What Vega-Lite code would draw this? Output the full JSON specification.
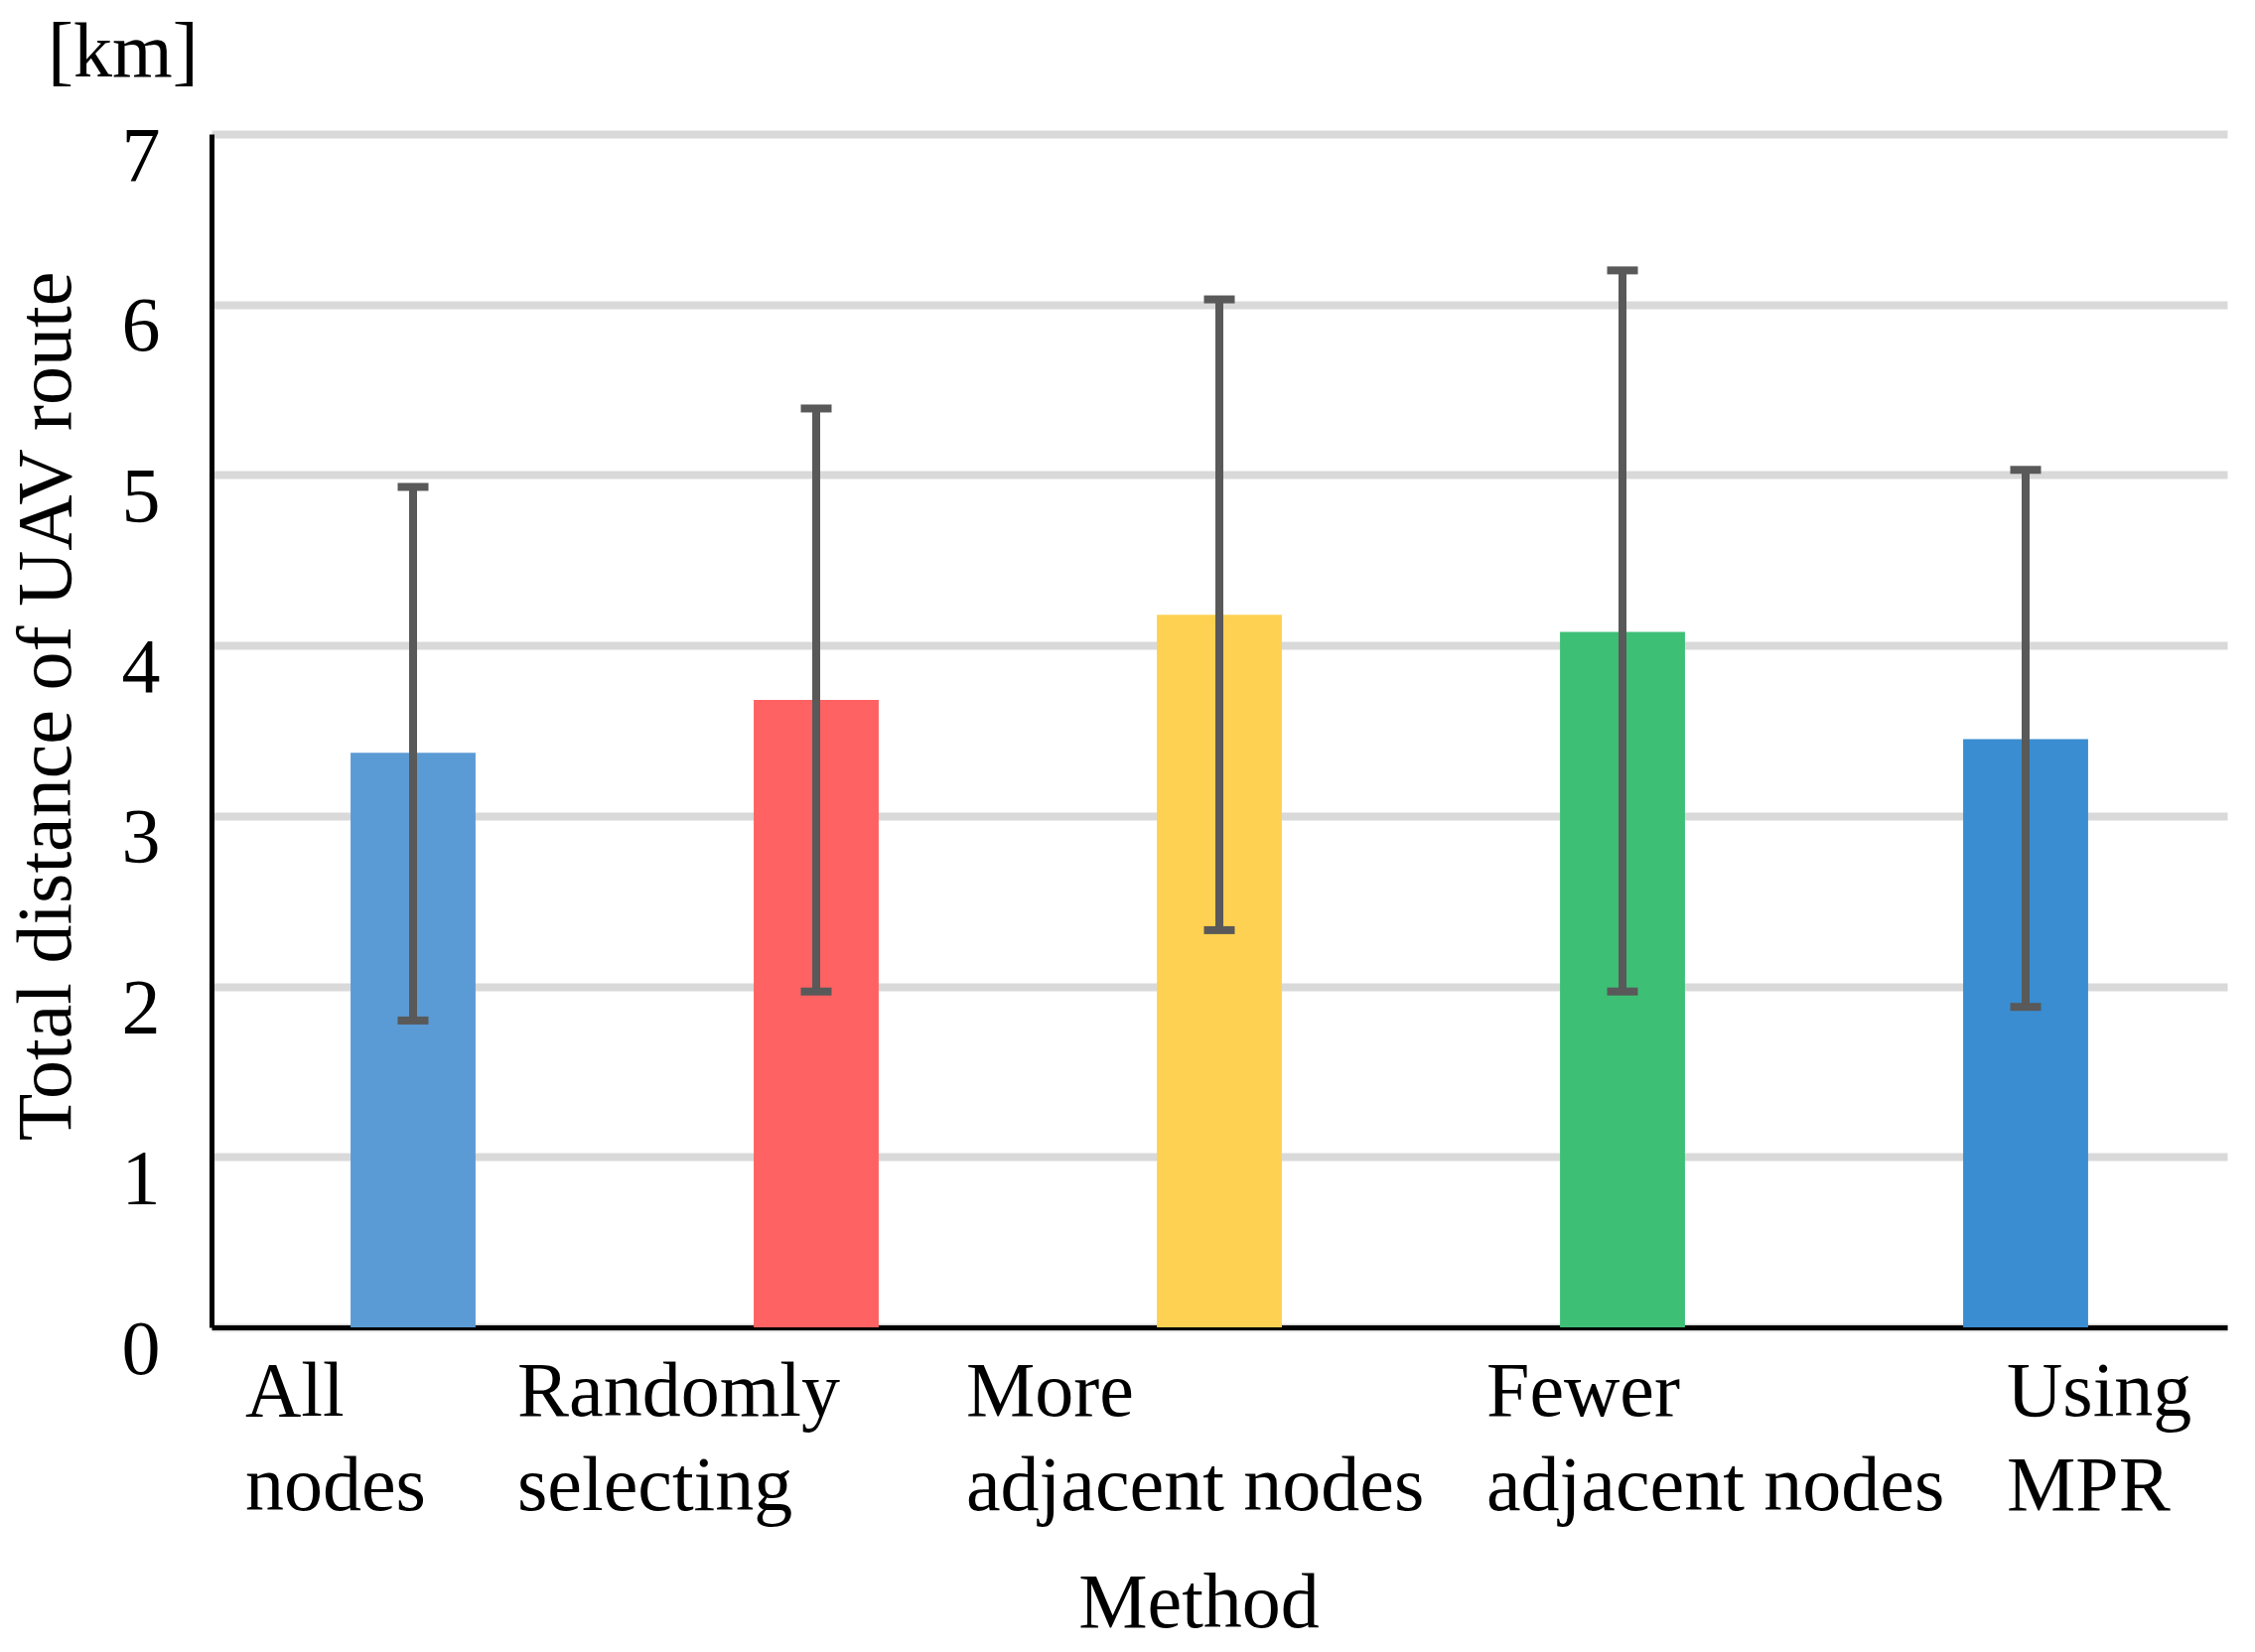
{
  "$schema": "https://vega.github.io/schema/vega-lite/v6.json",
  "width": 2030,
  "height": 1202,
  "autosize": {"type": "none"},
  "padding": {"left": 213, "top": 135, "right": 28, "bottom": 327},
  "background": "white",
  "title": {
    "text": "[km]",
    "anchor": "start",
    "frame": "group",
    "orient": "top",
    "baseline": "alphabetic",
    "dx": -165,
    "dy": 74,
    "offset": 38,
    "font": "Liberation Serif",
    "fontSize": 78,
    "fontWeight": "normal",
    "color": "black"
  },
  "config": {"view": {"stroke": null}, "font": "Liberation Serif"},
  "data": {
    "values": [
      {"method": "All nodes", "mean": 3.37, "low": 1.80, "high": 4.93},
      {"method": "Randomly selecting", "mean": 3.68, "low": 1.97, "high": 5.39},
      {"method": "More adjacent nodes", "mean": 4.18, "low": 2.33, "high": 6.03},
      {"method": "Fewer adjacent nodes", "mean": 4.08, "low": 1.97, "high": 6.20},
      {"method": "Using MPR", "mean": 3.45, "low": 1.88, "high": 5.03}
    ]
  },
  "encoding": {
    "x": {
      "field": "method",
      "type": "nominal",
      "sort": null,
      "scale": {"paddingInner": 0.69, "paddingOuter": 0.345},
      "axis": {
        "title": "Method",
        "titleFont": "Liberation Serif",
        "titleFontSize": 78,
        "titleFontWeight": "normal",
        "titleColor": "black",
        "titleX": 994,
        "titleY": 301,
        "titleAlign": "center",
        "titleBaseline": "alphabetic",
        "labelFont": "Liberation Serif",
        "labelFontSize": 78,
        "labelColor": "black",
        "labelAngle": 0,
        "labelAlign": "left",
        "labelBaseline": "alphabetic",
        "labelPadding": 88,
        "labelLineHeight": 95,
        "labelLimit": 0,
        "labelOverlap": false,
        "labelBound": false,
        "labelFlush": false,
        "labelExpr": "datum.value == 'All nodes' ? ['All','nodes'] : datum.value == 'Randomly selecting' ? ['Randomly','selecting'] : datum.value == 'More adjacent nodes' ? ['More','adjacent nodes'] : datum.value == 'Fewer adjacent nodes' ? ['Fewer','adjacent nodes'] : ['Using','MPR']",
        "labelOffset": {
          "condition": [
            {"test": "datum.value == 'All nodes'", "value": -169},
            {"test": "datum.value == 'Randomly selecting'", "value": -301},
            {"test": "datum.value == 'More adjacent nodes'", "value": -255},
            {"test": "datum.value == 'Fewer adjacent nodes'", "value": -137}
          ],
          "value": -19
        },
        "ticks": false,
        "tickSize": 0,
        "grid": false,
        "domainColor": "black",
        "domainWidth": 5
      }
    }
  },
  "layer": [
    {
      "mark": {"type": "bar"},
      "encoding": {
        "y": {
          "field": "mean",
          "type": "quantitative",
          "title": "Total distance of UAV route",
          "scale": {"domain": [0, 7], "nice": false, "zero": true},
          "axis": {
            "values": [0, 1, 2, 3, 4, 5, 6, 7],
            "format": "d",
            "title": "Total distance of UAV route",
            "titleFont": "Liberation Serif",
            "titleFontSize": 78,
            "titleFontWeight": "normal",
            "titleColor": "black",
            "titleAngle": -90,
            "titleX": -143,
            "titleY": 576,
            "titleAlign": "center",
            "titleBaseline": "alphabetic",
            "labelFont": "Liberation Serif",
            "labelFontSize": 78,
            "labelColor": "black",
            "labelPadding": 52,
            "labelAlign": "right",
            "labelBaseline": "alphabetic",
            "labelOffset": 46,
            "labelFlush": false,
            "labelOverlap": false,
            "labelBound": false,
            "ticks": false,
            "tickSize": 0,
            "domainColor": "black",
            "domainWidth": 5,
            "grid": true,
            "gridColor": "#D9D9D9",
            "gridWidth": 8
          }
        },
        "color": {
          "field": "method",
          "type": "nominal",
          "sort": null,
          "scale": {
            "domain": ["All nodes", "Randomly selecting", "More adjacent nodes", "Fewer adjacent nodes", "Using MPR"],
            "range": ["#5B9BD5", "#FF6262", "#FFD152", "#3EBF76", "#3A8DD0"]
          },
          "legend": null
        }
      }
    },
    {
      "mark": {"type": "rule", "color": "#595959", "strokeWidth": 8},
      "encoding": {
        "y": {"field": "low", "type": "quantitative", "title": "Total distance of UAV route"},
        "y2": {"field": "high"}
      }
    },
    {
      "mark": {"type": "tick", "color": "#595959", "size": 31, "thickness": 8, "opacity": 1},
      "encoding": {
        "y": {"field": "low", "type": "quantitative", "title": "Total distance of UAV route"}
      }
    },
    {
      "mark": {"type": "tick", "color": "#595959", "size": 31, "thickness": 8, "opacity": 1},
      "encoding": {
        "y": {"field": "high", "type": "quantitative", "title": "Total distance of UAV route"}
      }
    }
  ]
}
